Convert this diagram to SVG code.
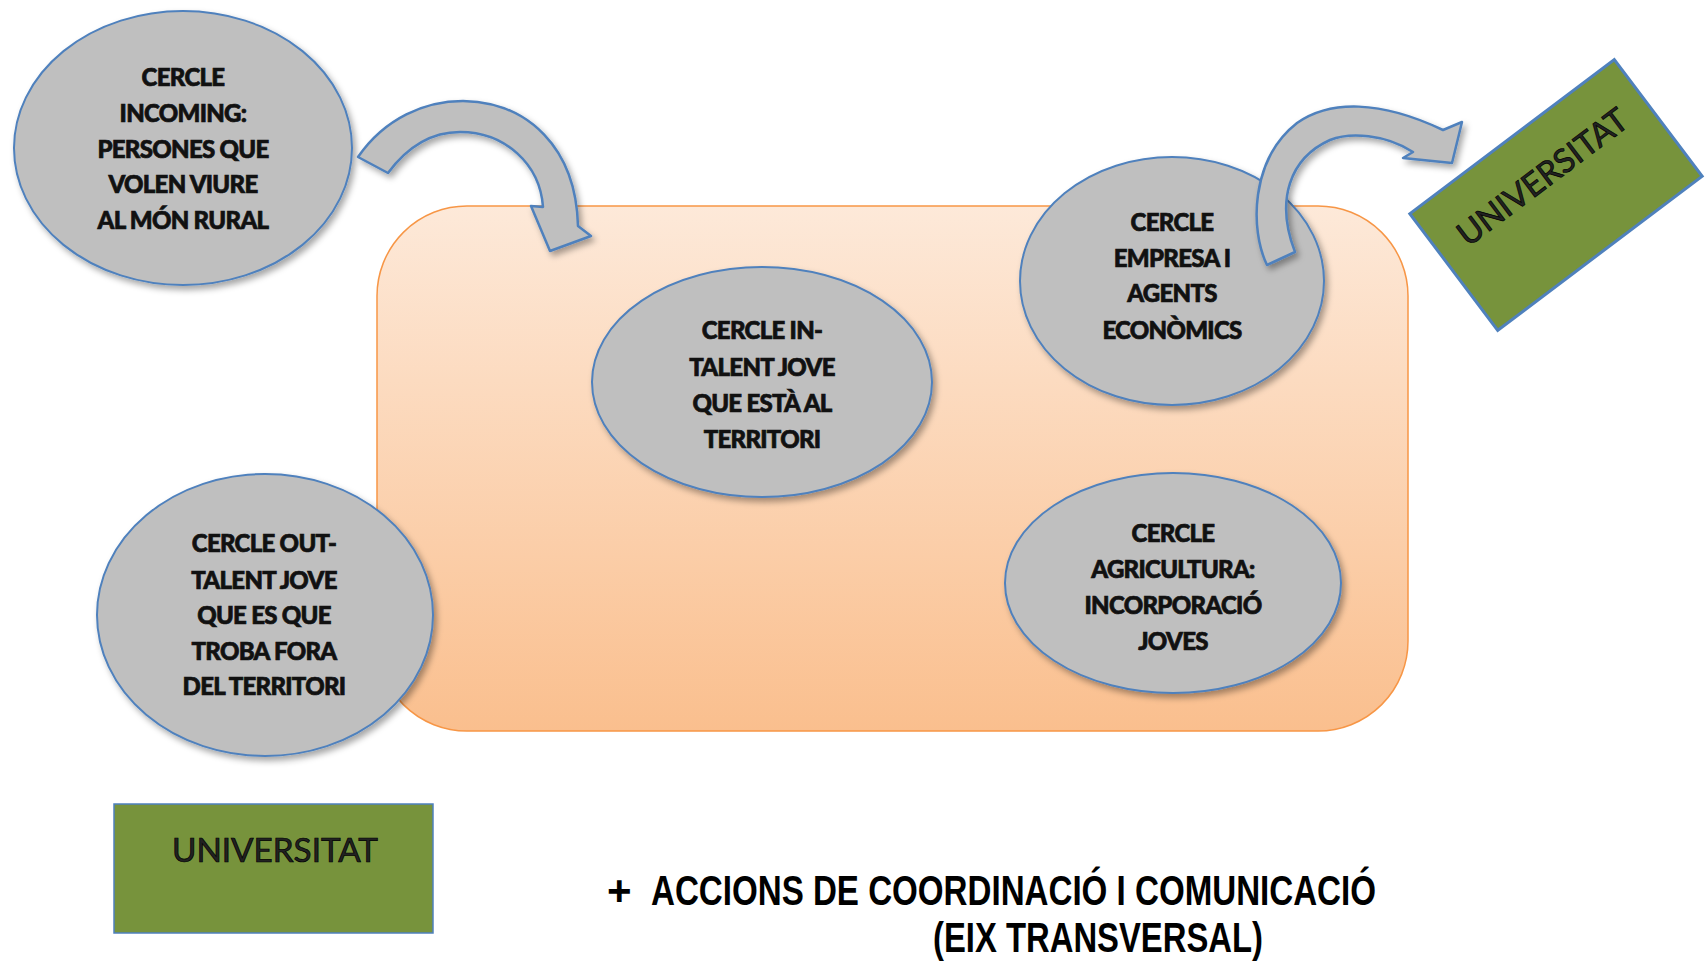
<svg xmlns="http://www.w3.org/2000/svg" width="1706" height="962" viewBox="0 0 1706 962">
<defs>
<linearGradient id="bg" x1="0" y1="0" x2="0" y2="1">
<stop offset="0" stop-color="#fde9d9"/>
<stop offset="1" stop-color="#fabf8e"/>
</linearGradient>
<filter id="sh" x="-20%" y="-20%" width="140%" height="140%">
<feDropShadow dx="3" dy="4" stdDeviation="3" flood-color="#000" flood-opacity="0.35"/>
</filter>
</defs>
<style>
.circ{fill:#bfbfbf;stroke:#4f81bd;stroke-width:2;filter:url(#sh)}
.arr{fill:#bfbfbf;stroke:#4f81bd;stroke-width:2.5;stroke-linejoin:round;filter:url(#sh)}
.lbl{font-family:Lato,"Liberation Sans",sans-serif;font-weight:900;font-size:24px;fill:#111;stroke:#111;stroke-width:0.7px;text-anchor:middle;letter-spacing:-0.7px}
.uni{fill:#77933c;stroke:#4f81bd}
.unit{font-family:Lato,"Liberation Sans",sans-serif;font-size:33px;fill:#222;stroke:#000;stroke-width:0.7;text-anchor:middle}
.foot{font-family:"Liberation Sans",sans-serif;font-weight:bold;font-size:42px;fill:#000}
</style>
<rect width="1706" height="962" fill="#fff"/>

<g id="territori">
<rect x="377" y="206" width="1031" height="525" rx="90" ry="90" fill="url(#bg)" stroke="#f79646" stroke-width="1.5"/>
</g>

<g id="cercle-incoming">
<ellipse class="circ" cx="183" cy="148" rx="169" ry="137"/>
<text class="lbl"><tspan x="183" y="86">CERCLE</tspan><tspan x="183" y="122">INCOMING:</tspan><tspan x="183" y="158">PERSONES QUE</tspan><tspan x="183" y="193">VOLEN VIURE</tspan><tspan x="183" y="229">AL MÓN RURAL</tspan></text>
</g>

<g id="cercle-in">
<ellipse class="circ" cx="762" cy="382" rx="170" ry="115"/>
<text class="lbl"><tspan x="762" y="339">CERCLE IN-</tspan><tspan x="762" y="376">TALENT JOVE</tspan><tspan x="762" y="412">QUE ESTÀ AL</tspan><tspan x="762" y="448">TERRITORI</tspan></text>
</g>

<g id="cercle-empresa">
<ellipse class="circ" cx="1172" cy="281" rx="152" ry="124"/>
<text class="lbl"><tspan x="1172" y="231">CERCLE</tspan><tspan x="1172" y="267">EMPRESA I</tspan><tspan x="1172" y="302">AGENTS</tspan><tspan x="1172" y="339">ECONÒMICS</tspan></text>
</g>

<g id="cercle-out">
<ellipse class="circ" cx="265" cy="615" rx="168" ry="141"/>
<text class="lbl"><tspan x="264" y="552">CERCLE OUT-</tspan><tspan x="264" y="589">TALENT JOVE</tspan><tspan x="264" y="624">QUE ES  QUE</tspan><tspan x="264" y="660">TROBA FORA</tspan><tspan x="264" y="695">DEL TERRITORI</tspan></text>
</g>

<g id="cercle-agricultura">
<ellipse class="circ" cx="1173" cy="583" rx="168" ry="110"/>
<text class="lbl"><tspan x="1173" y="542">CERCLE</tspan><tspan x="1173" y="578">AGRICULTURA:</tspan><tspan x="1173" y="614">INCORPORACIÓ</tspan><tspan x="1173" y="650">JOVES</tspan></text>
</g>

<g id="universitat-top">
<g transform="translate(1556,195) rotate(-37)">
<rect class="uni" x="-128" y="-73" width="256" height="146" stroke-width="3"/>
<text class="unit" x="0" y="-11" font-size="31" textLength="204" lengthAdjust="spacingAndGlyphs">UNIVERSITAT</text>
</g>
</g>

<g id="universitat-bottom">
<rect class="uni" x="114" y="804" width="319" height="129" stroke-width="1.5"/>
<text class="unit" x="275" y="862" textLength="206" lengthAdjust="spacingAndGlyphs">UNIVERSITAT</text>
</g>

<g id="connectors">
<path class="arr" d="M358,157 C385,118 425,101 463,101 C528,102 576,148 578,226 L591,236 L550,251 L531,206 L543,207 C540,164 505,132 460,132 C432,132 408,146 388,173 Z"/>
<path class="arr" d="M1267,265 C1250,230 1250,160 1297,123 C1330,100 1380,100 1443,130 L1462,122 L1452,163 L1403,158 L1413,152 C1385,134 1350,132 1330,140 C1290,158 1275,200 1295,252 Z"/>
</g>

<g id="eix-transversal">
<text class="foot" x="607" y="905" font-weight="normal" font-size="44">+</text>
<text class="foot" x="651" y="905" textLength="725" lengthAdjust="spacingAndGlyphs">ACCIONS DE COORDINACIÓ I COMUNICACIÓ</text>
<text class="foot" x="933" y="952" textLength="330" lengthAdjust="spacingAndGlyphs">(EIX TRANSVERSAL)</text>
</g>
</svg>
